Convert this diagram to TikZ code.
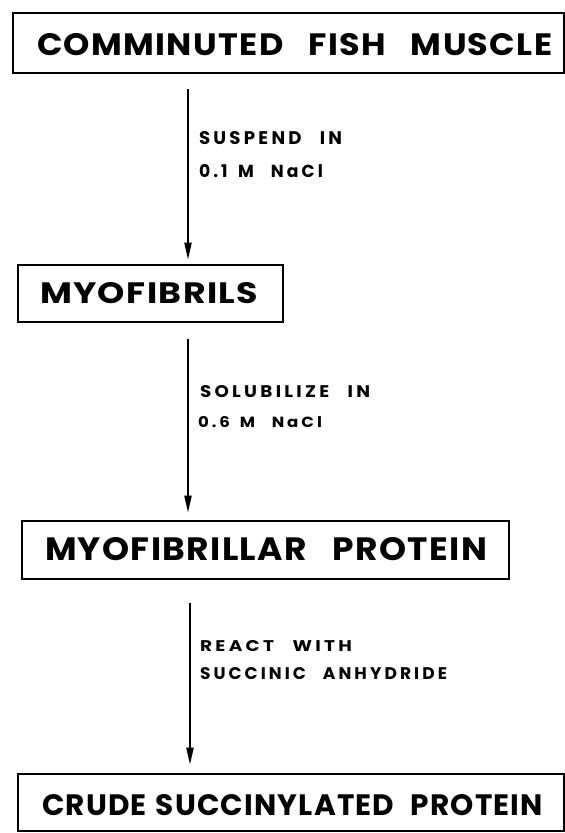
\documentclass[tikz,border=0pt]{standalone}
\usepackage{fontspec}
\setmainfont{Poppins}
\newfontfamily\bigf[LetterSpace=4]{Poppins}
\newfontfamily\smallf[LetterSpace=18]{Poppins}
\usetikzlibrary{arrows.meta,fit}
\newcommand\fitto[3]{\resizebox{#1}{#2}{#3}}
\tikzset{
  boxsty/.style={draw=black, line width=2.6pt, inner sep=0pt},
  txt/.style={anchor=base west, inner sep=0pt, outer sep=0pt},
  flow/.style={draw=black, line width=2pt, -{Triangle[length=17pt,width=7pt]}},
}
\begin{document}
\begin{tikzpicture}[x=1pt,y=-1pt]
\useasboundingbox (0,0) rectangle (565,833);
\fill[white] (0,0) rectangle (565,833);
% boxes
\node[boxsty, fit={(13,13) (564,73)}] (b1) {};
\node[boxsty, fit={(18,265) (283,322)}] (b2) {};
\node[boxsty, fit={(22,521) (509,579)}] (b3) {};
\node[boxsty, fit={(18,774) (564,831)}] (b4) {};
% box texts
\node[txt] (t1) at (37,55) {\fitto{515pt}{22pt}{\bigf\bfseries COMMINUTED\hspace{.75em}FISH\hspace{.75em}MUSCLE}};
\node[txt] (t2) at (40,303) {\fitto{218pt}{21pt}{\bigf\bfseries MYOFIBRILS}};
\node[txt] (t3) at (45,560) {\fitto{442pt}{23pt}{\bigf\bfseries MYOFIBRILLAR\hspace{.75em}PROTEIN}};
\node[txt] (t4) at (42,815) {\fitto{501pt}{21pt}{\bigf\bfseries CRUDE\hspace{.3em}SUCCINYLATED\hspace{.55em}PROTEIN}};
% arrow x positions
\coordinate (ax1) at (188,0);
\coordinate (ax3) at (190,0);
% arrows
\draw[flow, shorten <=15pt, shorten >=4pt] (b1.south -| ax1) -- (b2.north -| ax1);
\draw[flow, shorten <=16pt, shorten >=7pt] (b2.south -| ax1) -- (b3.north -| ax1);
\draw[flow, shorten <=23pt, shorten >=8pt] (b3.south -| ax3) -- (b4.north -| ax3);
% step labels
\node[txt] (l1a) at (199,144) {\fitto{143pt}{13pt}{\smallf\bfseries SUSPEND\hspace{1em}IN}};
\node[txt] (l1b) at (199,177) {\fitto{124pt}{13pt}{\smallf\bfseries 0.1\hspace{.6em}M\hspace{1em}NaCl}};
\node[txt] (l2a) at (200,397) {\fitto{170pt}{12pt}{\smallf\bfseries SOLUBILIZE\hspace{1em}IN}};
\node[txt] (l2b) at (198,427) {\fitto{124pt}{11pt}{\smallf\bfseries 0.6\hspace{.6em}M\hspace{1em}NaCl}};
\node[txt] (l3a) at (200,651) {\fitto{152pt}{11pt}{\smallf\bfseries REACT\hspace{1em}WITH}};
\node[txt] (l3b) at (200,679) {\fitto{247pt}{12pt}{\smallf\bfseries SUCCINIC\hspace{1em}ANHYDRIDE}};
\end{tikzpicture}
\end{document}
